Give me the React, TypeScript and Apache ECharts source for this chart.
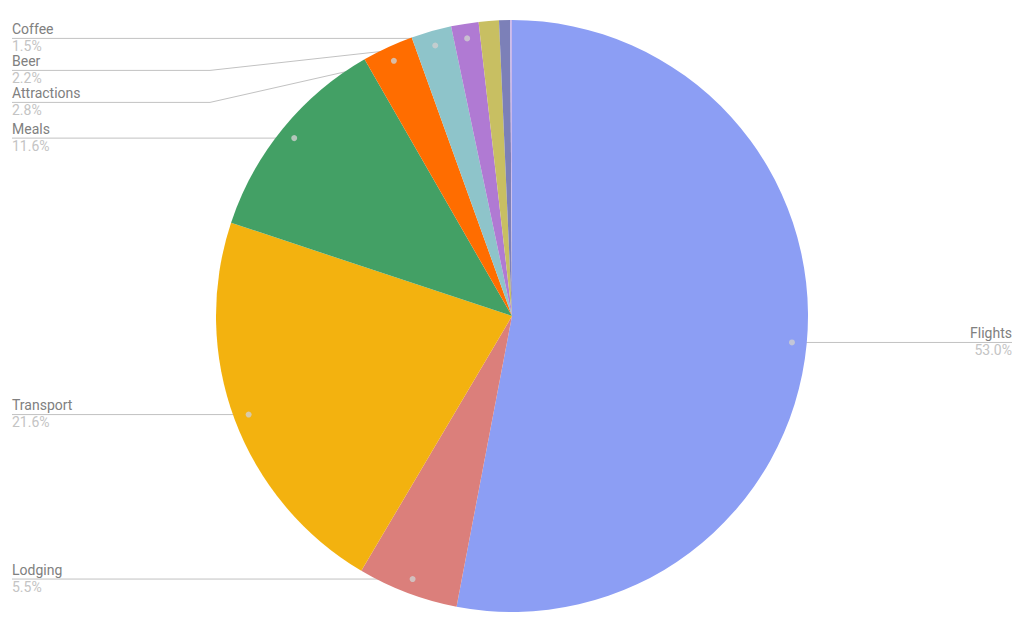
import React, { useEffect, useRef } from 'react';
import * as echarts from 'echarts';

// ---- data ----
const categories = ['Flights', 'Lodging', 'Transport', 'Meals', 'Attractions', 'Beer', 'Coffee', 'Misc', 'Fees', 'Other'];
const values = [53.0, 5.5, 21.6, 11.6, 2.8, 2.2, 1.5, 1.1, 0.6, 0.1];
const colors = ['#8C9EF4', '#DB7F7B', '#F3B20F', '#43A065', '#FF6D00', '#8EC4CA', '#B07AD3', '#C8BF62', '#7C80B8', '#C9B6EA'];
const labeled = [true, true, true, true, true, true, true, false, false, false];

// ---- layout constants ----
const CX = 512;
const CY = 316;
const R = 296;
const DOT_FRAC = 0.95;
const EDGE = 12;
const WIDTH = 1024;
const LABEL_GAP = 32;

const total = values.reduce((a, b) => a + b, 0);
const mids: number[] = [];
{
  let acc = 0;
  values.forEach((v) => {
    mids.push(acc + v / 2);
    acc += v;
  });
}

type LabelPos = { left: boolean; y: number; dot: number[]; points: number[][]; textX: number };
function computeLabels(): Record<number, LabelPos> {
  const items = values
    .map((v, i) => {
      const ang = (mids[i] / total) * Math.PI * 2;
      const dx = Math.sin(ang) * R * DOT_FRAC;
      const dy = -Math.cos(ang) * R * DOT_FRAC;
      return { i, dot: [CX + dx, CY + dy], left: dx < 0 };
    })
    .filter((it) => labeled[it.i]);
  const out: Record<number, LabelPos> = {};
  [true, false].forEach((side) => {
    const group = items.filter((it) => it.left === side).sort((a, b) => a.dot[1] - b.dot[1]);
    let prev = -Infinity;
    group.forEach((it) => {
      const y = Math.max(it.dot[1], prev + LABEL_GAP);
      prev = y;
      const edgeX = side ? EDGE : WIDTH - EDGE;
      const shifted = Math.abs(y - it.dot[1]) > 0.5;
      const bendX = side ? CX - R - 6 : CX + R + 6;
      const points = shifted
        ? [it.dot, [bendX, y], [edgeX, y]]
        : [it.dot, [it.dot[0], y], [edgeX, y]];
      out[it.i] = { left: side, y, dot: it.dot, points, textX: edgeX };
    });
  });
  return out;
}
const labelPos = computeLabels();

export default function App() {
  const ref = useRef<HTMLDivElement>(null);
  useEffect(() => {
    document.body.style.margin = '0';
    if (!ref.current) return;
    const chart = echarts.init(ref.current, undefined, { renderer: 'svg' });
    chart.setOption({
      animation: false,
      backgroundColor: '#ffffff',
      textStyle: { fontFamily: 'Roboto' },
      polar: { center: [CX, CY], radius: R },
      angleAxis: { type: 'value', min: 0, max: total, startAngle: 90, clockwise: true, show: false },
      radiusAxis: { type: 'value', min: 0, max: 1, show: false },
      series: [
        {
          type: 'pie',
          center: [CX, CY],
          radius: R,
          startAngle: 90,
          clockwise: true,
          avoidLabelOverlap: false,
          itemStyle: { borderWidth: 0 },
          data: categories.map((name, i) => ({
            name,
            value: values[i],
            itemStyle: { color: colors[i] },
            label: { show: labeled[i] },
            labelLine: { show: labeled[i] },
          })),
          label: {
            show: true,
            formatter: (p: any) => `{n|${p.name}}\n{p|${p.percent.toFixed(1)}%}`,
            rich: {
              n: { fontFamily: 'Roboto', fontSize: 14, color: '#808080', lineHeight: 17 },
              p: { fontFamily: 'Roboto', fontSize: 14, color: '#c4c4c4', lineHeight: 17 },
            },
          },
          labelLine: { show: true, smooth: false, lineStyle: { color: '#c2c2c2', width: 1 } },
          labelLayout: (params: any) => {
            const L = labelPos[params.dataIndex];
            if (!L) return {};
            return {
              x: L.textX,
              y: L.y - 1,
              align: L.left ? 'left' : 'right',
              verticalAlign: 'middle',
              labelLinePoints: L.points,
            };
          },
        },
        {
          type: 'scatter',
          coordinateSystem: 'polar',
          symbol: 'circle',
          symbolSize: 6,
          z: 10,
          silent: true,
          itemStyle: { color: '#cfcfcf' },
          data: categories.map((_, i) => i).filter((i) => labeled[i]).map((i) => [DOT_FRAC, mids[i]]),
        },
      ],
    });
    return () => chart.dispose();
  }, []);
  return <div ref={ref} style={{ width: 1024, height: 627 }} />;
}
